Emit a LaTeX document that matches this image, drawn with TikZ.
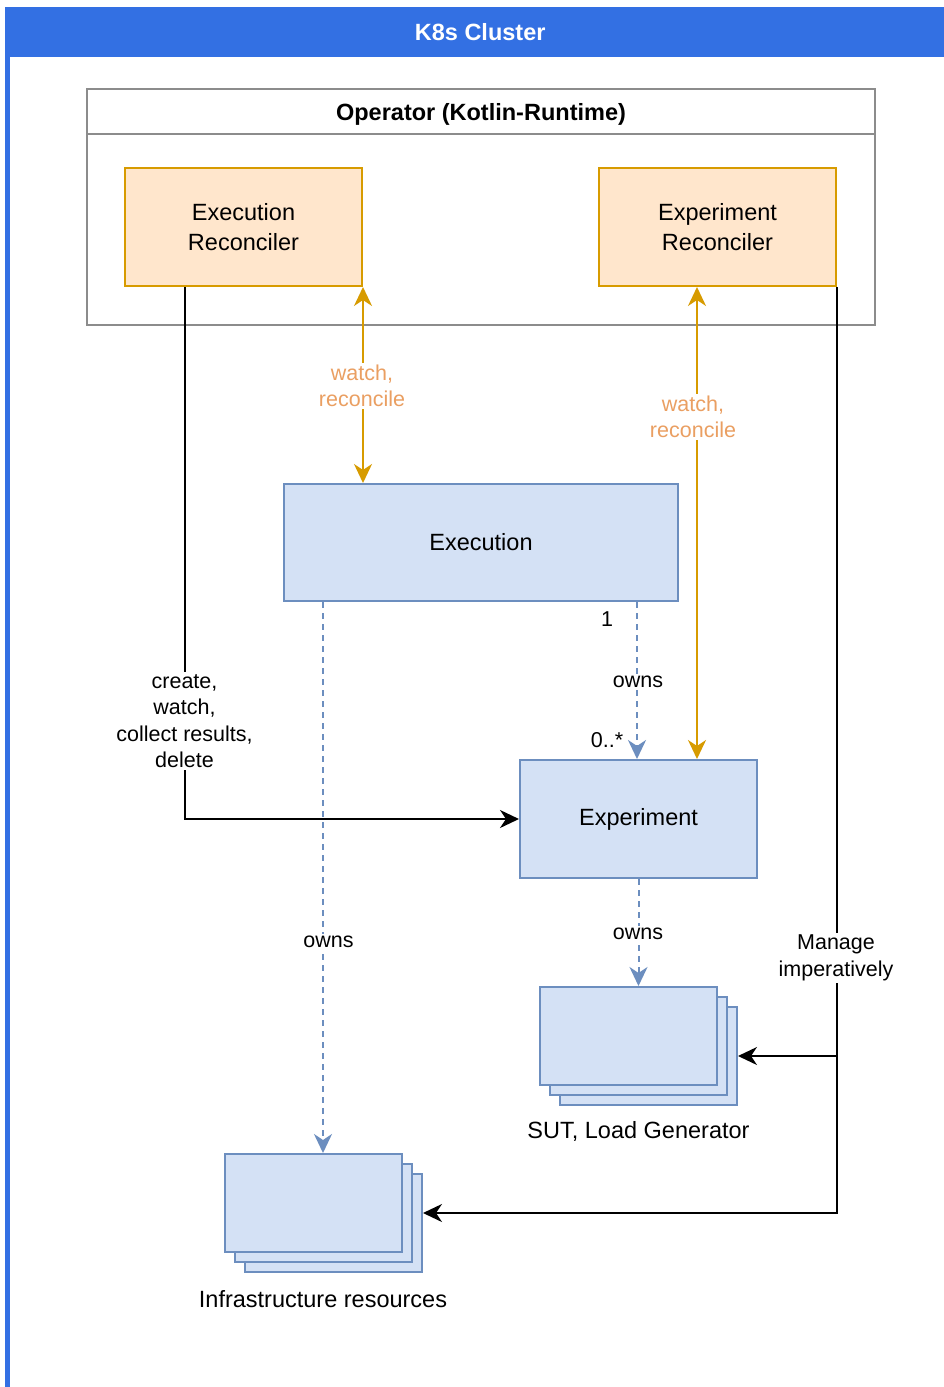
\documentclass[tikz,border=0pt]{standalone}
\usepackage{fontspec}
\setmainfont{Liberation Sans}
\usetikzlibrary{arrows.meta}

\definecolor{clusterblue}{HTML}{3370E3}
\definecolor{reconfill}{HTML}{FFE6CC}
\definecolor{reconline}{HTML}{D79B00}
\definecolor{resfill}{HTML}{D4E1F5}
\definecolor{resline}{HTML}{6C8EBF}
\definecolor{oplabel}{HTML}{EA9F62}
\definecolor{opframe}{HTML}{8C8C8C}

\tikzset{
  nodefont/.style={font=\fontsize{23.5}{30}\selectfont},
  labelfont/.style={font=\fontsize{21.5}{26.5}\selectfont},
  recon/.style={draw=reconline, fill=reconfill, line width=2pt, nodefont, align=center,
                minimum width=237, minimum height=118, inner sep=0pt},
  resource/.style={draw=resline, fill=resfill, line width=2pt, nodefont, align=center,
                minimum width=237, minimum height=118, inner sep=0pt},
  sheet/.style={draw=resline, fill=resfill, line width=2pt, minimum width=177,
                minimum height=98, inner sep=0pt},
  headtip/.tip={Stealth[length=19pt,width=18pt,inset=6pt]},
  tip/.style={-headtip},
  bothtips/.style={headtip-headtip},
  watchline/.style={draw=reconline, line width=2pt, bothtips},
  ctrlline/.style={draw=black, line width=2pt},
  ownline/.style={draw=resline, line width=2pt, dash pattern=on 6pt off 5pt, tip},
  edgelabel/.style={labelfont, fill=white, align=center, inner sep=2pt},
}

\begin{document}
\begin{tikzpicture}[x=1pt, y=-1pt]
  \useasboundingbox (0,0) rectangle (944,1387);
  \fill[white] (0,0) rectangle (944,1387);

  % K8s cluster frame
  \node[fill=clusterblue, text=white, anchor=north west, minimum width=950, minimum height=50,
        inner sep=0pt, font=\bfseries\fontsize{23.5}{28}\selectfont] (cluster) at (5,7) {K8s Cluster};
  \fill[clusterblue] (cluster.south west) rectangle ([xshift=5pt]cluster.south west |- 0,1400);

  % Operator
  \node[draw=opframe, line width=2pt, minimum width=788, minimum height=236, inner sep=0pt] (op) at (481,207) {};
  \node[draw=opframe, line width=2pt, minimum width=788, minimum height=45, inner sep=0pt, anchor=north,
        text depth=0pt, font=\bfseries\fontsize{23.5}{28}\selectfont] (optitle) at (op.north) {Operator (Kotlin-Runtime)};

  \node[recon] (execrec) at (243.5,227) {Execution\\Reconciler};
  \node[recon] (exprec) at (717.5,227) {Experiment\\Reconciler};

  % Custom resources
  \node[resource, minimum width=394, minimum height=117] (exec) at (481,542.5) {Execution};
  \node[resource] (expt) at (638.5,819) {Experiment};

  % SUT and load generator stack
  \node[sheet] (sutback) at (648.5,1056) {};
  \node[sheet] (sutmid) at (638.5,1046) {};
  \node[sheet] (sut) at (628.5,1036) {};
  \node[nodefont, anchor=center] (sutlabel) at (638.5,1131) {SUT, Load Generator};

  % Infrastructure stack
  \node[sheet] (infraback) at (333.5,1223) {};
  \node[sheet] (inframid) at (323.5,1213) {};
  \node[sheet] (infra) at (313.5,1203) {};
  \node[nodefont, anchor=center] (infralabel) at (323,1299) {Infrastructure resources};

  % watch / reconcile
  \draw[watchline] (execrec.south east) -- (execrec.south east |- exec.north);
  \node[edgelabel, text=oplabel] (watchA) at (362,386) {watch,\\reconcile};
  \draw[watchline] ([xshift=-20.5pt]exprec.south) -- ([xshift=-20.5pt]exprec.south |- expt.north);
  \node[edgelabel, text=oplabel] (watchB) at (693,417) {watch,\\reconcile};

  % execution reconciler drives experiments
  \draw[ctrlline, tip] ([xshift=-58.5pt]execrec.south) |- (expt.west);
  \node[edgelabel] (createlbl) at (184.5,721) {create,\\watch,\\collect results,\\delete};

  % ownership
  \draw[ownline] ([xshift=156pt]exec.south) -- ([xshift=156pt]exec.south |- expt.north);
  \node[edgelabel] (ownsA) at (638,682) {owns};
  \node[labelfont] (one) at (607,619) {1};
  \node[labelfont] (many) at (607,740) {0..*};

  \draw[ownline] ([xshift=-158pt]exec.south) -- ([xshift=-158pt]exec.south |- infra.north);
  \node[edgelabel] (ownsB) at (328.5,942) {owns};

  \draw[ownline] (expt.south) -- (expt.south |- sut.north);
  \node[edgelabel] (ownsC) at (638,934) {owns};

  % experiment reconciler manages resources
  \draw[ctrlline, tip] (exprec.south east) |- ([yshift=10pt]infraback.east);
  \draw[ctrlline, tip] (exprec.south east |- sutback.east) -- (sutback.east);
  \node[edgelabel] (managelbl) at (836,958) {Manage\\imperatively};
\end{tikzpicture}
\end{document}
